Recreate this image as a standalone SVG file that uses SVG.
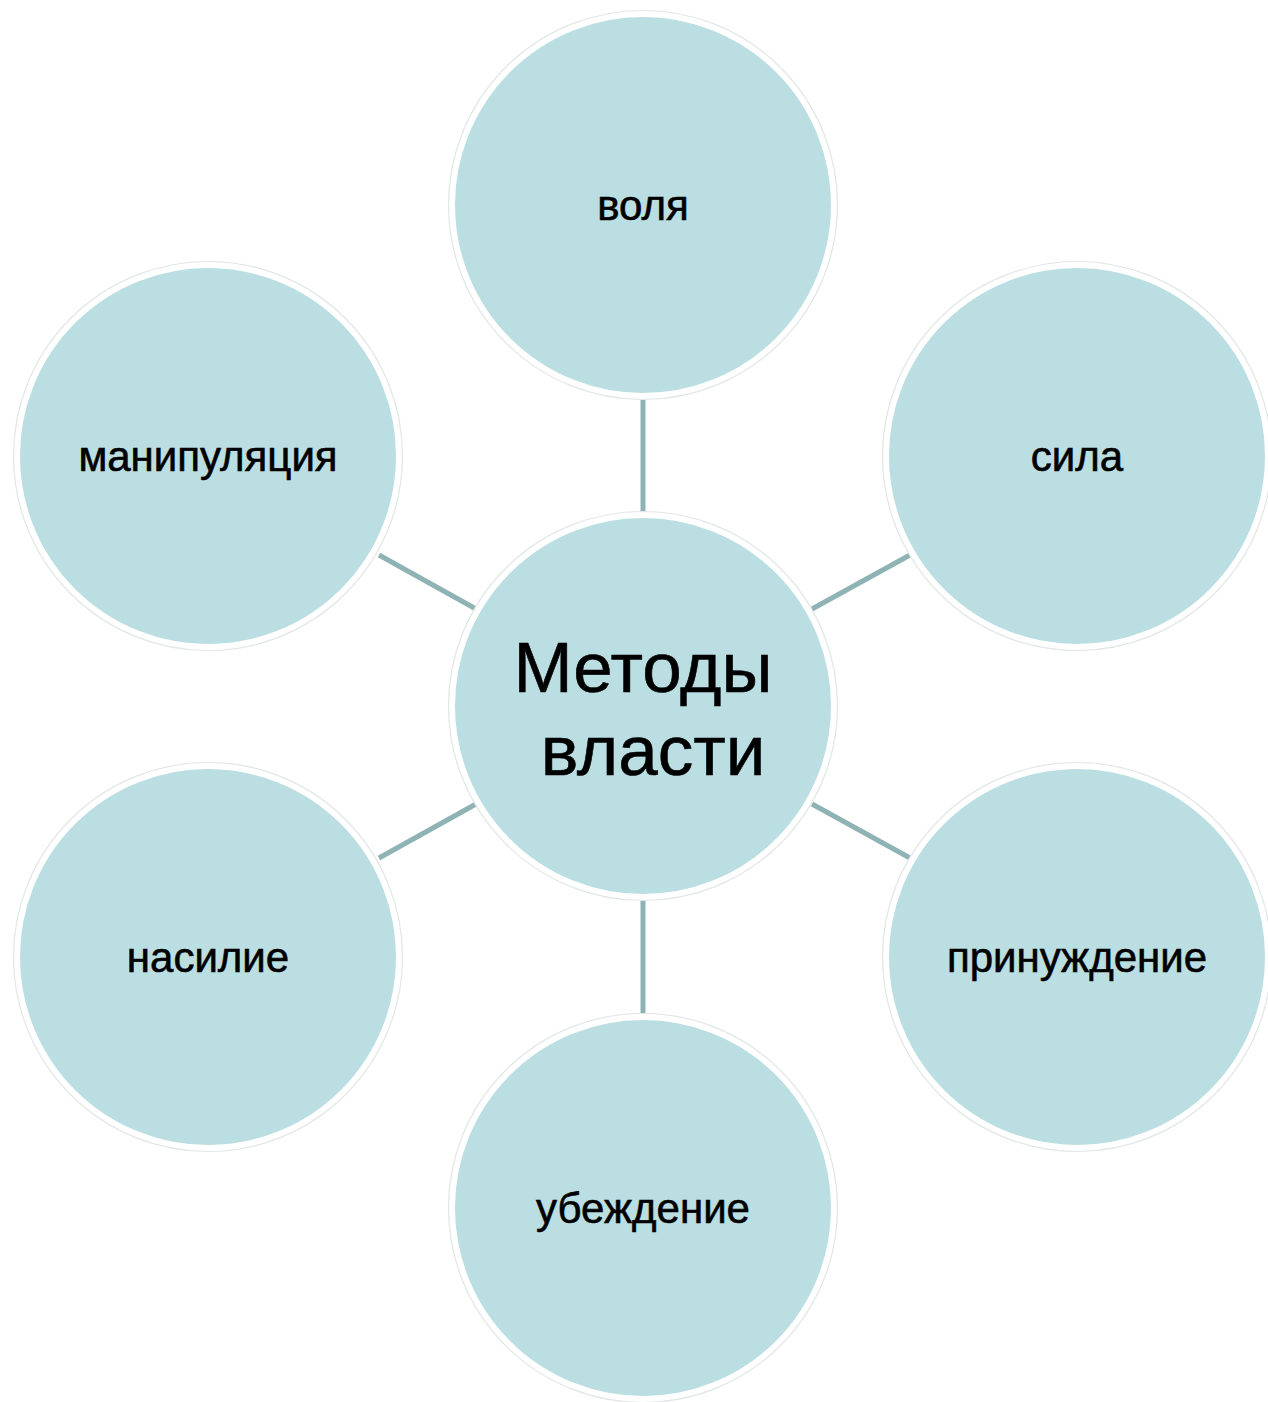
<svg xmlns="http://www.w3.org/2000/svg" width="1268" height="1402" viewBox="0 0 1268 1402">
<style>
.bg{fill:#ffffff}
.node{fill:#badee2;stroke:#ffffff;stroke-width:6}
.edge{fill:none;stroke:#e2e6e6;stroke-width:1.2}
.conn{stroke:#8fb2b4;stroke-width:5;stroke-linecap:butt}
.lbl{font-family:"Liberation Sans",Arial,sans-serif;font-size:42px;fill:#000;stroke:#000;stroke-width:0.6;text-anchor:middle}
.big{font-family:"Liberation Sans",Arial,sans-serif;font-size:71px;fill:#000;stroke:#000;stroke-width:0.6;text-anchor:middle}
</style>
<rect class="bg" x="0" y="0" width="1268" height="1402"/>
<g id="connectors">
<line class="conn" x1="643" y1="400" x2="643" y2="513"/>
<line class="conn" x1="643" y1="900" x2="643" y2="1014"/>
<line class="conn" x1="379" y1="555" x2="476" y2="609"/>
<line class="conn" x1="910" y1="555" x2="812" y2="609"/>
<line class="conn" x1="379" y1="858" x2="476" y2="804"/>
<line class="conn" x1="910" y1="858" x2="812" y2="804"/>
</g>
<g id="center">
<circle class="node" cx="643" cy="706" r="191"/>
<circle class="edge" cx="643" cy="706" r="194.5"/>
<text class="big" x="643" y="692">Методы</text>
<text class="big" x="653" y="775">власти</text>
</g>
<g id="volya">
<circle class="node" cx="643" cy="205" r="191"/>
<circle class="edge" cx="643" cy="205" r="194.5"/>
<text class="lbl" x="643" y="220">воля</text>
</g>
<g id="sila">
<circle class="node" cx="1077" cy="456" r="191"/>
<circle class="edge" cx="1077" cy="456" r="194.5"/>
<text class="lbl" x="1077" y="471">сила</text>
</g>
<g id="prinuzhdenie">
<circle class="node" cx="1077" cy="957" r="191"/>
<circle class="edge" cx="1077" cy="957" r="194.5"/>
<text class="lbl" x="1077" y="972">принуждение</text>
</g>
<g id="ubezhdenie">
<circle class="node" cx="643" cy="1208" r="191"/>
<circle class="edge" cx="643" cy="1208" r="194.5"/>
<text class="lbl" x="643" y="1223">убеждение</text>
</g>
<g id="nasilie">
<circle class="node" cx="208" cy="957" r="191"/>
<circle class="edge" cx="208" cy="957" r="194.5"/>
<text class="lbl" x="208" y="972">насилие</text>
</g>
<g id="manipulyatsiya">
<circle class="node" cx="208" cy="456" r="191"/>
<circle class="edge" cx="208" cy="456" r="194.5"/>
<text class="lbl" x="208" y="471">манипуляция</text>
</g>
</svg>
